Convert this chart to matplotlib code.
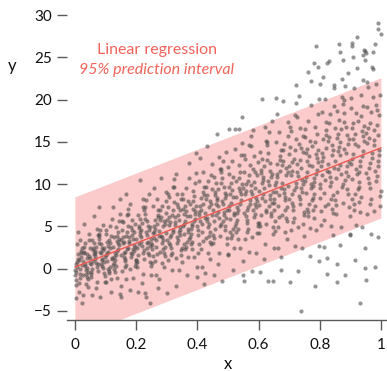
import numpy as np
import matplotlib
matplotlib.use("Agg")
import matplotlib.pyplot as plt

# ---------------- data (read / estimated from the reference) ----------------
x_0 = [0.012, 0.003, 0.021, 0.008, 0.017, 0.001, 0.024, 0.010, 0.005, 0.019, 0.014, 0.007, 0.022, 0.002, 0.016, 0.011, 0.023, 0.006, 0.018, 0.009, 0.000, 0.020, 0.013, 0.004, 0.015,
       0.037, 0.028, 0.046, 0.033, 0.042, 0.026, 0.049, 0.035, 0.030, 0.044, 0.039, 0.032, 0.047, 0.027, 0.041, 0.036, 0.048, 0.031, 0.043, 0.034, 0.025, 0.045, 0.038, 0.029, 0.040,
       0.062, 0.053, 0.071, 0.058, 0.067, 0.051, 0.074, 0.060, 0.055, 0.069, 0.064, 0.057, 0.072, 0.052, 0.066, 0.061, 0.073, 0.056, 0.068, 0.059, 0.050, 0.070, 0.063, 0.054, 0.065,
       0.087, 0.078, 0.096, 0.083, 0.092, 0.076, 0.099, 0.085, 0.080, 0.094, 0.089, 0.082, 0.097, 0.077, 0.091, 0.086, 0.098, 0.081, 0.093, 0.084, 0.075, 0.095, 0.088, 0.079, 0.090]
y_0 = [1.0, -1.9, 1.9, 0.2, 3.4, -0.7, 0.4, 4.4, -1.3, 1.4, -2.8, 0.8, 2.5, -0.4, 0.0, 1.7, -4.0, 2.9, -1.1, 1.2, -0.2, 2.1, -1.7, 0.6, -0.6,
       -0.6, 1.8, 3.4, 0.3, -2.2, 0.9, 2.4, -0.1, 5.3, -1.2, 1.3, 0.5, 4.1, -0.8, 1.7, -1.8, 0.7, 2.0, -0.4, 3.0, -3.1, 1.5, 0.1, 2.6, -1.0,
       3.0, 0.5, -1.6, 2.2, 1.5, -0.4, 4.0, 0.9, -3.1, 2.6, 1.9, 0.0, 4.7, -1.0, 1.1, 1.7, 0.2, 3.4, -2.3, 2.4, 1.3, 0.7, 6.2, -0.6, 2.1,
       1.0, 3.1, -0.5, 4.6, 2.2, 0.5, -1.6, 1.8, 3.5, 0.8, 2.5, -3.4, 1.4, 3.9, 0.1, 2.9, -0.9, 2.0, 5.2, 0.6, -0.3, 2.4, 1.2, 4.1, 0.3]

x_1 = [0.112, 0.103, 0.121, 0.108, 0.117, 0.101, 0.124, 0.110, 0.105, 0.119, 0.114, 0.107, 0.122, 0.102, 0.116, 0.111, 0.123, 0.106, 0.118, 0.109, 0.100, 0.120, 0.113, 0.104, 0.115,
       0.137, 0.128, 0.146, 0.133, 0.142, 0.126, 0.149, 0.135, 0.130, 0.144, 0.139, 0.132, 0.147, 0.127, 0.141, 0.136, 0.148, 0.131, 0.143, 0.134, 0.125, 0.145, 0.138, 0.129, 0.140,
       0.162, 0.153, 0.171, 0.158, 0.167, 0.151, 0.174, 0.160, 0.155, 0.169, 0.164, 0.157, 0.172, 0.152, 0.166, 0.161, 0.173, 0.156, 0.168, 0.159, 0.150, 0.170, 0.163, 0.154, 0.165,
       0.187, 0.178, 0.196, 0.183, 0.192, 0.176, 0.199, 0.185, 0.180, 0.194, 0.189, 0.182, 0.197, 0.177, 0.191, 0.186, 0.198, 0.181, 0.193, 0.184, 0.175, 0.195, 0.188, 0.179, 0.190]
y_1 = [-0.3, 4.1, 1.1, 2.7, -2.8, 4.6, 0.4, 3.4, 1.8, -1.2, 3.0, 0.0, 5.9, 1.6, 2.5, -0.5, 7.3, 0.9, 3.9, 2.0, -1.6, 1.3, 5.0, 3.2, 0.2,
       3.3, 0.0, 8.3, 1.6, 2.3, 3.7, -2.0, 4.9, 1.0, 2.8, 2.1, -0.4, 6.5, 0.7, 3.0, 3.9, -3.0, 1.9, 5.6, 0.3, 2.6, 3.5, -1.1, 1.4, 4.4,
       1.1, 5.7, 2.3, 3.7, 0.4, 1.6, 7.1, 3.2, -0.3, 4.3, 0.9, 5.5, 2.5, -3.3, 3.9, 1.8, 5.0, 3.0, -1.2, 1.4, 3.4, 6.4, 0.2, 4.6, 2.0,
       1.7, 3.0, 0.3, 4.9, 2.1, 3.7, 1.0, 5.8, -2.5, 4.4, 2.3, 1.9, 5.3, 3.3, -1.1, 4.0, 0.7, 7.6, 2.8, 1.4, 6.5, 2.6, 4.6, 0.0, 3.5]

x_2 = [0.212, 0.203, 0.221, 0.208, 0.217, 0.201, 0.224, 0.210, 0.205, 0.219, 0.214, 0.207, 0.222, 0.202, 0.216, 0.211, 0.223, 0.206, 0.218, 0.209, 0.200, 0.220, 0.213, 0.204, 0.215,
       0.237, 0.228, 0.246, 0.233, 0.242, 0.226, 0.249, 0.235, 0.230, 0.244, 0.239, 0.232, 0.247, 0.227, 0.241, 0.236, 0.248, 0.231, 0.243, 0.234, 0.225, 0.245, 0.238, 0.229, 0.240,
       0.262, 0.253, 0.271, 0.258, 0.267, 0.251, 0.274, 0.260, 0.255, 0.269, 0.264, 0.257, 0.272, 0.252, 0.266, 0.261, 0.273, 0.256, 0.268, 0.259, 0.250, 0.270, 0.263, 0.254, 0.265,
       0.287, 0.278, 0.296, 0.283, 0.292, 0.276, 0.299, 0.285, 0.280, 0.294, 0.289, 0.282, 0.297, 0.277, 0.291, 0.286, 0.298, 0.281, 0.293, 0.284, 0.275, 0.295, 0.288, 0.279, 0.290]
y_2 = [5.9, 2.4, -0.6, 4.8, 3.7, 1.0, 7.3, 2.9, -2.7, 5.4, 4.3, 1.6, 8.3, 0.2, 3.2, 4.0, 1.9, 6.4, -1.7, 5.1, 3.5, 2.7, 10.5, 0.8, 4.6,
       3.0, 5.9, 0.8, 8.1, 4.6, 2.2, -0.8, 4.0, 6.5, 2.7, 5.1, -3.3, 3.5, 7.0, 1.6, 5.7, 0.3, 4.3, 8.9, 2.4, 1.1, 4.9, 3.2, 7.3, 1.9,
       4.7, 0.7, 6.1, 3.6, 8.2, 2.3, 3.9, 9.6, 1.5, 5.3, -0.7, 4.4, 6.9, 2.8, 3.4, 5.8, -2.3, 7.4, 1.7, 5.0, 3.1, 6.3, 0.9, 4.2, 2.6,
       2.3, 5.8, 8.0, 3.7, 0.2, 4.5, 6.6, 3.1, 10.7, 1.5, 5.0, 3.9, 9.1, 2.0, 5.6, 0.7, 4.2, 6.1, 2.6, 7.4, -1.2, 5.3, 3.4, 6.9, 1.8]

x_3 = [0.312, 0.303, 0.321, 0.308, 0.317, 0.301, 0.324, 0.310, 0.305, 0.319, 0.314, 0.307, 0.322, 0.302, 0.316, 0.311, 0.323, 0.306, 0.318, 0.309, 0.300, 0.320, 0.313, 0.304, 0.315,
       0.337, 0.328, 0.346, 0.333, 0.342, 0.326, 0.349, 0.335, 0.330, 0.344, 0.339, 0.332, 0.347, 0.327, 0.341, 0.336, 0.348, 0.331, 0.343, 0.334, 0.325, 0.345, 0.338, 0.329, 0.340,
       0.362, 0.353, 0.371, 0.358, 0.367, 0.351, 0.374, 0.360, 0.355, 0.369, 0.364, 0.357, 0.372, 0.352, 0.366, 0.361, 0.373, 0.356, 0.368, 0.359, 0.350, 0.370, 0.363, 0.354, 0.365,
       0.387, 0.378, 0.396, 0.383, 0.392, 0.376, 0.399, 0.385, 0.380, 0.394, 0.389, 0.382, 0.397, 0.377, 0.391, 0.386, 0.398, 0.381, 0.393, 0.384, 0.375, 0.395, 0.388, 0.379, 0.390]
y_3 = [2.8, 8.8, 4.3, 6.1, 1.9, 3.4, 10.6, 5.5, 1.0, 7.0, 2.5, 8.5, 4.6, -2.9, 6.4, 3.7, 7.9, 5.2, -0.2, 3.1, 5.8, 9.7, 1.6, 7.3, 4.0,
       3.4, 5.2, 1.6, 7.6, 4.0, 6.1, 2.5, 8.8, -2.0, 7.0, 4.3, 3.7, 8.2, 5.5, -0.2, 6.4, 2.2, 11.2, 4.9, 3.1, 9.7, 4.6, 7.3, 1.3, 5.8,
       2.6, 8.3, 4.4, 6.5, -0.7, 8.9, 3.5, 7.4, 5.3, 1.4, 6.8, 2.9, 10.7, 5.0, 6.2, 2.3, 12.5, 4.1, 8.0, 5.6, 0.8, 4.7, 9.5, 7.1, 3.2,
       7.1, 2.9, 13.7, 5.0, 5.9, 7.7, 0.2, 9.2, 4.1, 6.5, 5.6, 2.3, 11.3, 3.8, 6.8, 8.0, -1.0, 5.3, 10.1, 3.2, 6.2, 7.4, 1.4, 4.7, 8.6]

x_4 = [0.412, 0.403, 0.421, 0.408, 0.417, 0.401, 0.424, 0.410, 0.405, 0.419, 0.414, 0.407, 0.422, 0.402, 0.416, 0.411, 0.423, 0.406, 0.418, 0.409, 0.400, 0.420, 0.413, 0.404, 0.415,
       0.437, 0.428, 0.446, 0.433, 0.442, 0.426, 0.449, 0.435, 0.430, 0.444, 0.439, 0.432, 0.447, 0.427, 0.441, 0.436, 0.448, 0.431, 0.443, 0.434, 0.425, 0.445, 0.438, 0.429, 0.440,
       0.462, 0.453, 0.471, 0.458, 0.467, 0.451, 0.474, 0.460, 0.455, 0.469, 0.464, 0.457, 0.472, 0.452, 0.466, 0.461, 0.473, 0.456, 0.468, 0.459, 0.450, 0.470, 0.463, 0.454, 0.465,
       0.487, 0.478, 0.496, 0.483, 0.492, 0.476, 0.499, 0.485, 0.480, 0.494, 0.489, 0.482, 0.497, 0.477, 0.491, 0.486, 0.498, 0.481, 0.493, 0.484, 0.475, 0.495, 0.488, 0.479, 0.490]
y_4 = [7.0, 1.9, 8.7, 5.7, 11.4, 4.0, 6.0, 13.1, 2.9, 7.7, 0.2, 6.7, 9.7, 4.6, 5.3, 8.4, -1.8, 10.4, 3.3, 7.4, 5.0, 9.1, 2.3, 6.3, 4.3,
       3.9, 8.3, 11.1, 5.6, 1.2, 6.6, 9.4, 4.9, 14.5, 2.9, 7.3, 6.0, 12.4, 3.6, 8.0, 1.9, 6.3, 8.7, 4.3, 10.4, -0.5, 7.7, 5.3, 9.7, 3.2,
       10.1, 5.7, 1.9, 8.7, 7.4, 4.0, 11.8, 6.4, -0.8, 9.4, 8.1, 4.7, 13.2, 3.0, 6.7, 7.7, 5.0, 10.8, 0.6, 9.1, 7.0, 6.0, 15.9, 3.6, 8.4,
       6.3, 10.1, 3.6, 12.8, 8.4, 5.3, 1.6, 7.7, 10.7, 6.0, 9.0, -1.5, 7.0, 11.4, 4.6, 9.7, 2.9, 8.0, 13.8, 5.6, 3.9, 8.7, 6.7, 11.8, 5.0]

x_5 = [0.512, 0.503, 0.521, 0.508, 0.517, 0.501, 0.524, 0.510, 0.505, 0.519, 0.514, 0.507, 0.522, 0.502, 0.516, 0.511, 0.523, 0.506, 0.518, 0.509, 0.500, 0.520, 0.513, 0.504, 0.515,
       0.537, 0.528, 0.546, 0.533, 0.542, 0.526, 0.549, 0.535, 0.530, 0.544, 0.539, 0.532, 0.547, 0.527, 0.541, 0.536, 0.548, 0.531, 0.543, 0.534, 0.525, 0.545, 0.538, 0.529, 0.540,
       0.562, 0.553, 0.571, 0.558, 0.567, 0.551, 0.574, 0.560, 0.555, 0.569, 0.564, 0.557, 0.572, 0.552, 0.566, 0.561, 0.573, 0.556, 0.568, 0.559, 0.550, 0.570, 0.563, 0.554, 0.565,
       0.587, 0.578, 0.596, 0.583, 0.592, 0.576, 0.599, 0.585, 0.580, 0.594, 0.589, 0.582, 0.597, 0.577, 0.591, 0.586, 0.598, 0.581, 0.593, 0.584, 0.575, 0.595, 0.588, 0.579, 0.590]
y_5 = [4.0, 11.2, 6.3, 8.9, -0.2, 12.0, 5.1, 10.1, 7.4, 2.5, 9.3, 4.4, 14.2, 7.0, 8.5, 3.6, 16.5, 5.9, 10.8, 7.8, 1.7, 6.6, 12.7, 9.7, 4.7,
       9.6, 4.3, 18.0, 6.9, 8.1, 10.4, 0.9, 12.3, 5.8, 8.8, 7.7, 3.5, 14.9, 5.4, 9.2, 10.7, -0.7, 7.3, 13.4, 4.7, 8.5, 10.0, 2.4, 6.6, 11.5,
       5.8, 13.4, 7.7, 10.0, 4.7, 6.6, 15.7, 9.2, 3.5, 11.1, 5.4, 13.0, 8.1, -1.4, 10.4, 7.0, 12.3, 8.9, 2.0, 6.2, 9.6, 14.6, 4.3, 11.5, 7.3,
       6.5, 8.8, 4.2, 11.8, 7.3, 9.9, 5.4, 13.3, -0.3, 11.1, 7.6, 6.9, 12.6, 9.2, 1.9, 10.3, 5.0, 16.4, 8.4, 6.1, 14.5, 8.0, 11.4, 3.8, 9.5]

x_6 = [0.612, 0.603, 0.621, 0.608, 0.617, 0.601, 0.624, 0.610, 0.605, 0.619, 0.614, 0.607, 0.622, 0.602, 0.616, 0.611, 0.623, 0.606, 0.618, 0.609, 0.600, 0.620, 0.613, 0.604, 0.615,
       0.637, 0.628, 0.646, 0.633, 0.642, 0.626, 0.649, 0.635, 0.630, 0.644, 0.639, 0.632, 0.647, 0.627, 0.641, 0.636, 0.648, 0.631, 0.643, 0.634, 0.625, 0.645, 0.638, 0.629, 0.640,
       0.662, 0.653, 0.671, 0.658, 0.667, 0.651, 0.674, 0.660, 0.655, 0.669, 0.664, 0.657, 0.672, 0.652, 0.666, 0.661, 0.673, 0.656, 0.668, 0.659, 0.650, 0.670, 0.663, 0.654, 0.665,
       0.687, 0.678, 0.696, 0.683, 0.692, 0.676, 0.699, 0.685, 0.680, 0.694, 0.689, 0.682, 0.697, 0.677, 0.691, 0.686, 0.698, 0.681, 0.693, 0.684, 0.675, 0.695, 0.688, 0.679, 0.690]
y_6 = [13.0, 7.5, 2.9, 11.3, 9.6, 5.4, 15.1, 8.4, -0.4, 12.2, 10.5, 6.3, 16.8, 4.2, 8.8, 10.1, 6.7, 13.8, 1.2, 11.7, 9.2, 8.0, 20.1, 5.0, 10.9,
       8.3, 12.9, 4.9, 16.2, 10.8, 7.0, 2.4, 9.9, 13.7, 7.8, 11.6, -1.4, 9.1, 14.6, 6.2, 12.5, 4.1, 10.4, 17.5, 7.4, 5.3, 11.2, 8.7, 15.0, 6.6,
       10.8, 4.5, 12.9, 9.1, 16.2, 7.0, 9.5, 18.3, 5.7, 11.6, 2.4, 10.3, 14.1, 7.8, 8.7, 12.4, -0.2, 15.0, 6.1, 11.2, 8.2, 13.3, 4.9, 9.9, 7.4,
       6.9, 12.3, 15.7, 9.0, 3.5, 10.2, 13.6, 8.1, 19.9, 5.6, 11.1, 9.4, 17.4, 6.4, 11.9, 4.3, 9.8, 12.7, 7.3, 14.8, 1.4, 11.5, 8.5, 14.0, 6.0]

x_7 = [0.712, 0.703, 0.721, 0.708, 0.717, 0.701, 0.724, 0.710, 0.705, 0.719, 0.714, 0.707, 0.722, 0.702, 0.716, 0.711, 0.723, 0.706, 0.718, 0.709, 0.700, 0.720, 0.713, 0.704, 0.715,
       0.737, 0.728, 0.746, 0.733, 0.742, 0.726, 0.749, 0.735, 0.730, 0.744, 0.739, 0.732, 0.747, 0.727, 0.741, 0.736, 0.748, 0.731, 0.743, 0.734, 0.725, 0.745, 0.738, 0.729, 0.740,
       0.762, 0.753, 0.771, 0.758, 0.767, 0.751, 0.774, 0.760, 0.755, 0.769, 0.764, 0.757, 0.772, 0.752, 0.766, 0.761, 0.773, 0.756, 0.768, 0.759, 0.750, 0.770, 0.763, 0.754, 0.765,
       0.787, 0.778, 0.796, 0.783, 0.792, 0.776, 0.799, 0.785, 0.780, 0.794, 0.789, 0.782, 0.797, 0.777, 0.791, 0.786, 0.798, 0.781, 0.793, 0.784, 0.775, 0.795, 0.788, 0.779, 0.790]
y_7 = [7.4, 16.8, 9.7, 12.6, 6.0, 8.3, 19.6, 11.6, 4.6, 14.0, 6.9, 16.3, 10.2, -1.6, 13.0, 8.8, 15.4, 11.1, 2.7, 7.8, 12.1, 18.2, 5.5, 14.4, 9.3,
       8.2, 11.0, 5.3, 14.7, 9.1, 12.4, 6.7, 16.6, -0.3, 13.8, 9.6, 8.6, 15.7, 11.4, 2.5, 12.9, 6.3, 20.4, 10.5, 7.7, 18.0, 10.0, 14.3, 4.9, 11.9,
       6.7, 15.6, 9.5, 12.8, 1.5, 16.5, 8.1, 14.2, 10.9, 4.8, 13.3, 7.1, 19.4, 10.4, 12.3, 6.2, 22.2, 9.0, 15.1, 11.4, 3.9, 10.0, 17.5, 13.7, 7.6,
       13.6, 7.0, 23.9, 10.3, 11.7, 14.5, 2.7, 16.8, 8.9, 12.6, 11.2, 6.0, 20.1, 8.4, 13.1, 15.0, 0.9, 10.7, 18.3, 7.4, 12.1, 14.0, 4.6, 9.8, 15.9]

x_8 = [0.812, 0.803, 0.821, 0.808, 0.817, 0.801, 0.824, 0.810, 0.805, 0.819, 0.814, 0.807, 0.822, 0.802, 0.816, 0.811, 0.823, 0.806, 0.818, 0.809, 0.800, 0.820, 0.813, 0.804, 0.815,
       0.837, 0.828, 0.846, 0.833, 0.842, 0.826, 0.849, 0.835, 0.830, 0.844, 0.839, 0.832, 0.847, 0.827, 0.841, 0.836, 0.848, 0.831, 0.843, 0.834, 0.825, 0.845, 0.838, 0.829, 0.840,
       0.862, 0.853, 0.871, 0.858, 0.867, 0.851, 0.874, 0.860, 0.855, 0.869, 0.864, 0.857, 0.872, 0.852, 0.866, 0.861, 0.873, 0.856, 0.868, 0.859, 0.850, 0.870, 0.863, 0.854, 0.865,
       0.887, 0.878, 0.896, 0.883, 0.892, 0.876, 0.899, 0.885, 0.880, 0.894, 0.889, 0.882, 0.897, 0.877, 0.891, 0.886, 0.898, 0.881, 0.893, 0.884, 0.875, 0.895, 0.888, 0.879, 0.890]
y_8 = [13.2, 5.2, 15.8, 11.1, 20.1, 8.4, 11.6, 22.7, 6.8, 14.3, 2.6, 12.7, 17.4, 9.5, 10.5, 15.3, -0.6, 18.5, 7.4, 13.7, 10.0, 16.4, 5.8, 12.1, 9.0,
       8.2, 15.1, 19.3, 10.8, 4.0, 12.4, 16.7, 9.8, 24.6, 6.6, 13.5, 11.4, 21.4, 7.7, 14.6, 5.0, 11.9, 15.6, 8.7, 18.3, 1.3, 14.0, 10.3, 17.2, 7.1,
       17.6, 10.7, 4.9, 15.5, 13.4, 8.1, 20.3, 11.8, 0.6, 16.5, 14.4, 9.1, 22.4, 6.5, 12.3, 13.9, 9.7, 18.7, 2.8, 16.0, 12.8, 11.2, 26.6, 7.5, 15.0,
       11.5, 17.4, 7.3, 21.6, 14.7, 10.0, 4.1, 13.7, 18.4, 11.0, 15.8, -0.7, 12.6, 19.5, 8.9, 16.8, 6.2, 14.2, 23.2, 10.5, 7.8, 15.3, 12.1, 20.0, 9.4]

x_9 = [0.912, 0.903, 0.921, 0.908, 0.917, 0.901, 0.924, 0.910, 0.905, 0.919, 0.914, 0.907, 0.922, 0.902, 0.916, 0.911, 0.923, 0.906, 0.918, 0.909, 0.900, 0.920, 0.913, 0.904, 0.915,
       0.937, 0.928, 0.946, 0.933, 0.942, 0.926, 0.949, 0.935, 0.930, 0.944, 0.939, 0.932, 0.947, 0.927, 0.941, 0.936, 0.948, 0.931, 0.943, 0.934, 0.925, 0.945, 0.938, 0.929, 0.940,
       0.962, 0.953, 0.971, 0.958, 0.967, 0.951, 0.974, 0.960, 0.955, 0.969, 0.964, 0.957, 0.972, 0.952, 0.966, 0.961, 0.973, 0.956, 0.968, 0.959, 0.950, 0.970, 0.963, 0.954, 0.965,
       0.987, 0.978, 0.996, 0.983, 0.992, 0.976, 0.999, 0.985, 0.980, 0.994, 0.989, 0.982, 0.997, 0.977, 0.991, 0.986, 0.998, 0.981, 0.993, 0.984, 0.975, 0.995, 0.988, 0.979, 0.990]
y_9 = [7.6, 19.0, 11.2, 15.4, 1.0, 20.2, 9.4, 17.2, 13.0, 5.2, 16.0, 8.2, 23.8, 12.4, 14.8, 7.0, 27.4, 10.6, 18.4, 13.6, 4.0, 11.8, 21.4, 16.6, 8.8,
       16.3, 7.9, 25.9, 12.1, 13.9, 17.5, 2.5, 20.5, 10.3, 15.1, 13.3, 6.7, 24.7, 9.7, 15.7, 18.1, 0.1, 12.7, 22.3, 8.5, 14.5, 16.9, 4.9, 11.5, 19.3,
       10.1, 22.1, 13.1, 16.7, 8.3, 11.3, 25.7, 15.5, 6.5, 18.5, 9.5, 21.5, 13.7, -1.3, 17.3, 11.9, 20.3, 14.9, 4.1, 10.7, 16.1, 23.9, 7.7, 19.1, 12.5,
       11.0, 14.6, 7.4, 19.4, 12.2, 16.4, 9.2, 21.8, 0.2, 18.2, 12.8, 11.6, 20.6, 15.2, 3.8, 17.0, 8.6, 26.6, 14.0, 10.4, 23.6, 13.4, 18.8, 6.8, 15.8]

# outlying points
x_out = [0.990, 0.991, 0.999, 0.788, 0.866, 0.904, 0.907, 0.948, 0.952, 0.781, 0.825, 0.875, 0.910, 0.942,
         0.738, 0.931, 0.784, 0.858, 0.646, 0.245, 0.229, 0.003, 0.167, 0.078, 0.504, 0.537, 0.657,
         0.762, 0.724, 0.800, 0.846]
y_out = [29.1, 28.4, 27.8, 26.3, 25.7, 26.7, 26.3, 25.8, 25.5, 24.3, 24.3, 24.7, 25.1, 25.3,
         -5.0, -4.1, -2.0, -1.6, -1.5, -4.0, -2.9, -3.5, 8.8, 7.3, 16.5, 16.5, 20.2,
         23.3, 21.7, 21.8, 21.7]

# regression line and 95% prediction interval
fit_intercept = 0.2
fit_slope = 14.1
pi_halfwidth = 8.3
fit_x_range = [0.0, 1.0]

xticks = [0, 0.2, 0.4, 0.6, 0.8, 1]
xticklabels = ["0", "0.2", "0.4", "0.6", "0.8", "1"]
yticks = [-5, 0, 5, 10, 15, 20, 25, 30]
yticklabels = ["\u22125", "0", "5", "10", "15", "20", "25", "30"]

title_lines = ["Linear regression", "95% prediction interval"]

# ---------------- figure ----------------
FONT = ["Lato", "DejaVu Sans"]
plt.rcParams["font.family"] = FONT

fig = plt.figure(figsize=(3.87, 3.71), dpi=100)
ax = fig.add_axes([67 / 387, 51 / 371, 320 / 387, 320 / 371])

xs = np.concatenate([x_0, x_1, x_2, x_3, x_4, x_5, x_6, x_7, x_8, x_9, x_out])
ys = np.concatenate([y_0, y_1, y_2, y_3, y_4, y_5, y_6, y_7, y_8, y_9, y_out])

fx = np.array(fit_x_range)
fy = fit_intercept + fit_slope * fx

band_color = "#fbcaca"
line_color = "#ee5a4f"
text_color = "#f0645a"
axis_color = "#5a5a5a"

ax.fill_between(fx, fy - pi_halfwidth, fy + pi_halfwidth, color=band_color,
                linewidth=0, zorder=1)
ax.scatter(xs, ys, s=9, color="#4a4a4a", alpha=0.58, linewidths=0, zorder=2)
ax.plot(fx, fy, color=line_color, linewidth=1.0, zorder=3)

ax.set_xlim(-0.026, 1.02)
ax.set_ylim(-6.07, 31.8)

for side in ["left", "top", "right"]:
    ax.spines[side].set_visible(False)
ax.spines["bottom"].set_color(axis_color)
ax.spines["bottom"].set_linewidth(1.0)

ax.set_xticks(xticks)
ax.set_xticklabels(xticklabels)
ax.set_yticks(yticks)
ax.set_yticklabels(yticklabels)
ax.tick_params(axis="both", direction="out", length=7, width=1.0,
               color=axis_color, labelsize=11, labelcolor="#111111")
ax.tick_params(axis="y", pad=4)
ax.tick_params(axis="x", pad=6)

ax.set_xlabel("x", fontsize=12, color="#111111")
ax.xaxis.set_label_coords(0.503, -0.138)
ax.xaxis.label.set_va("center")
ax.set_ylabel("y", fontsize=12, color="#111111", rotation=0)
ax.yaxis.set_label_coords(-0.172, 0.794)
ax.yaxis.label.set_va("center")
ax.yaxis.label.set_ha("center")

ax.text(0.268, 25.9, title_lines[0], color=text_color, fontsize=11.5,
        ha="center", va="center", zorder=4)
ax.text(0.268, 23.5, title_lines[1], color=text_color, fontsize=11.5,
        style="italic", ha="center", va="center", zorder=4)

fig.savefig("out.png", dpi=100)
